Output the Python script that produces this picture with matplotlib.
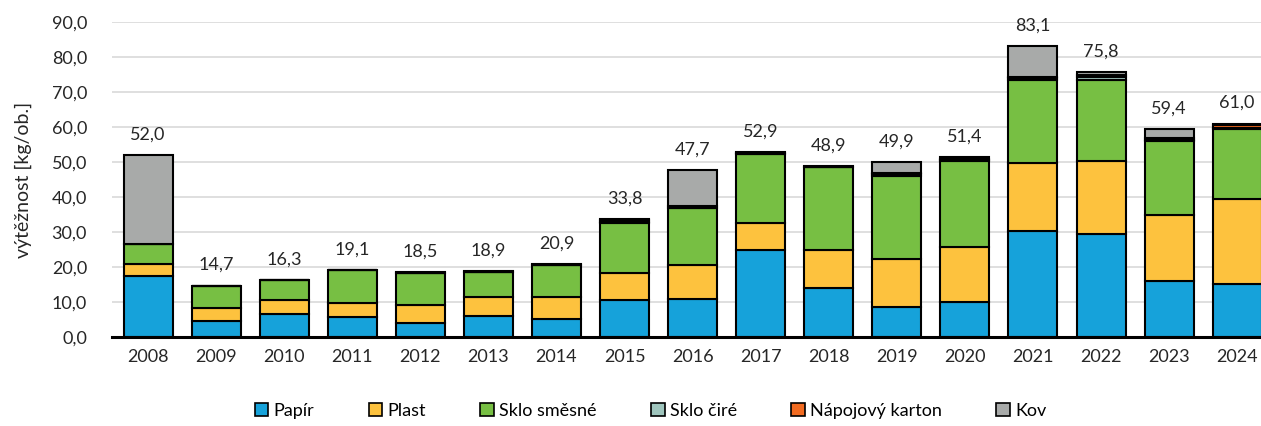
import matplotlib.pyplot as plt
import numpy as np
from matplotlib.patches import Patch

plt.rcParams['font.family'] = ['Lato', 'DejaVu Sans']

years = ['2008', '2009', '2010', '2011', '2012', '2013', '2014', '2015', '2016',
         '2017', '2018', '2019', '2020', '2021', '2022', '2023', '2024']
papir = [17.5, 4.5, 6.5, 5.7, 4.1, 6.0, 5.1, 10.5, 10.8, 24.8, 14.1, 8.6, 10.0, 30.2, 29.4, 16.0, 15.1]
plast = [3.3, 3.7, 4.1, 4.1, 5.0, 5.3, 6.4, 7.8, 9.8, 7.8, 10.7, 13.7, 15.6, 19.6, 21.0, 18.9, 24.4]
sklo_smesne = [5.8, 6.5, 5.7, 9.3, 9.2, 7.4, 9.2, 14.2, 16.4, 19.6, 23.7, 23.8, 24.6, 23.6, 23.2, 21.0, 20.0]
sklo_cire = [0, 0, 0, 0, 0, 0, 0, 0.4, 0, 0, 0, 0.4, 0.5, 0.5, 0.6, 0.5, 0.2]
karton = [0, 0, 0, 0, 0, 0, 0, 0.4, 0.3, 0.3, 0.2, 0.3, 0.3, 0.5, 0.6, 0.5, 1.0]
kov = [25.4, 0, 0, 0, 0.2, 0.2, 0.2, 0.5, 10.4, 0.4, 0.2, 3.1, 0.4, 8.7, 1.0, 2.5, 0.3]
totals = [52.0, 14.7, 16.3, 19.1, 18.5, 18.9, 20.9, 33.8, 47.7, 52.9, 48.9, 49.9, 51.4, 83.1, 75.8, 59.4, 61.0]

series = [
    ('Papír', papir, '#16a2da'),
    ('Plast', plast, '#fdc23e'),
    ('Sklo směsné', sklo_smesne, '#77bf43'),
    ('Sklo čiré', sklo_cire, '#9fc5bd'),
    ('Nápojový karton', karton, '#f26b21'),
    ('Kov', kov, '#a8aaa9'),
]

fig = plt.figure(figsize=(12.61, 4.26), dpi=100)
ax = fig.add_axes([0.0888, 0.209, 0.9112, 0.739])

x = np.arange(len(years))
bottom = np.zeros(len(years))
handles = []
for name, vals, color in series:
    vals = np.array(vals, dtype=float)
    ax.bar(x, vals, bottom=bottom, width=0.72, color=color,
           edgecolor='black', linewidth=1.5, zorder=3)
    bottom += vals
    handles.append(Patch(facecolor=color, edgecolor='black', linewidth=1.2, label=name))

for xi, t in zip(x, totals):
    ax.annotate(f'{t:.1f}'.replace('.', ','), (xi, t), xytext=(0, 9),
                textcoords='offset points', ha='center', va='bottom',
                fontsize=13, color='#262626')

ax.set_ylim(0, 90)
ax.set_xlim(-0.53, 16.35)
ax.set_yticks(np.arange(0, 91, 10))
ax.set_yticklabels([f'{v:.1f}'.replace('.', ',') for v in np.arange(0, 91, 10)])
ax.set_xticks(x)
ax.set_xticklabels(years)
ax.tick_params(axis='both', length=0, labelsize=13, colors='#262626')
ax.tick_params(axis='x', pad=9)
ax.tick_params(axis='y', pad=18)
ax.grid(axis='y', color='#d9d9d9', linewidth=1.2, zorder=0)
for s in ['top', 'right', 'left']:
    ax.spines[s].set_visible(False)
ax.spines['bottom'].set_linewidth(2.2)
ax.spines['bottom'].set_zorder(4)
ax.set_ylabel('výtěžnost [kg/ob.]', fontsize=14, color='#262626', labelpad=14)

fig.legend(handles=handles, loc='center', bbox_to_anchor=(0.516, 0.035), ncol=6,
           frameon=False, fontsize=13, handlelength=0.75, handleheight=0.75,
           handletextpad=0.3, columnspacing=3.0)

fig.savefig('out.png', dpi=100, facecolor='white')
